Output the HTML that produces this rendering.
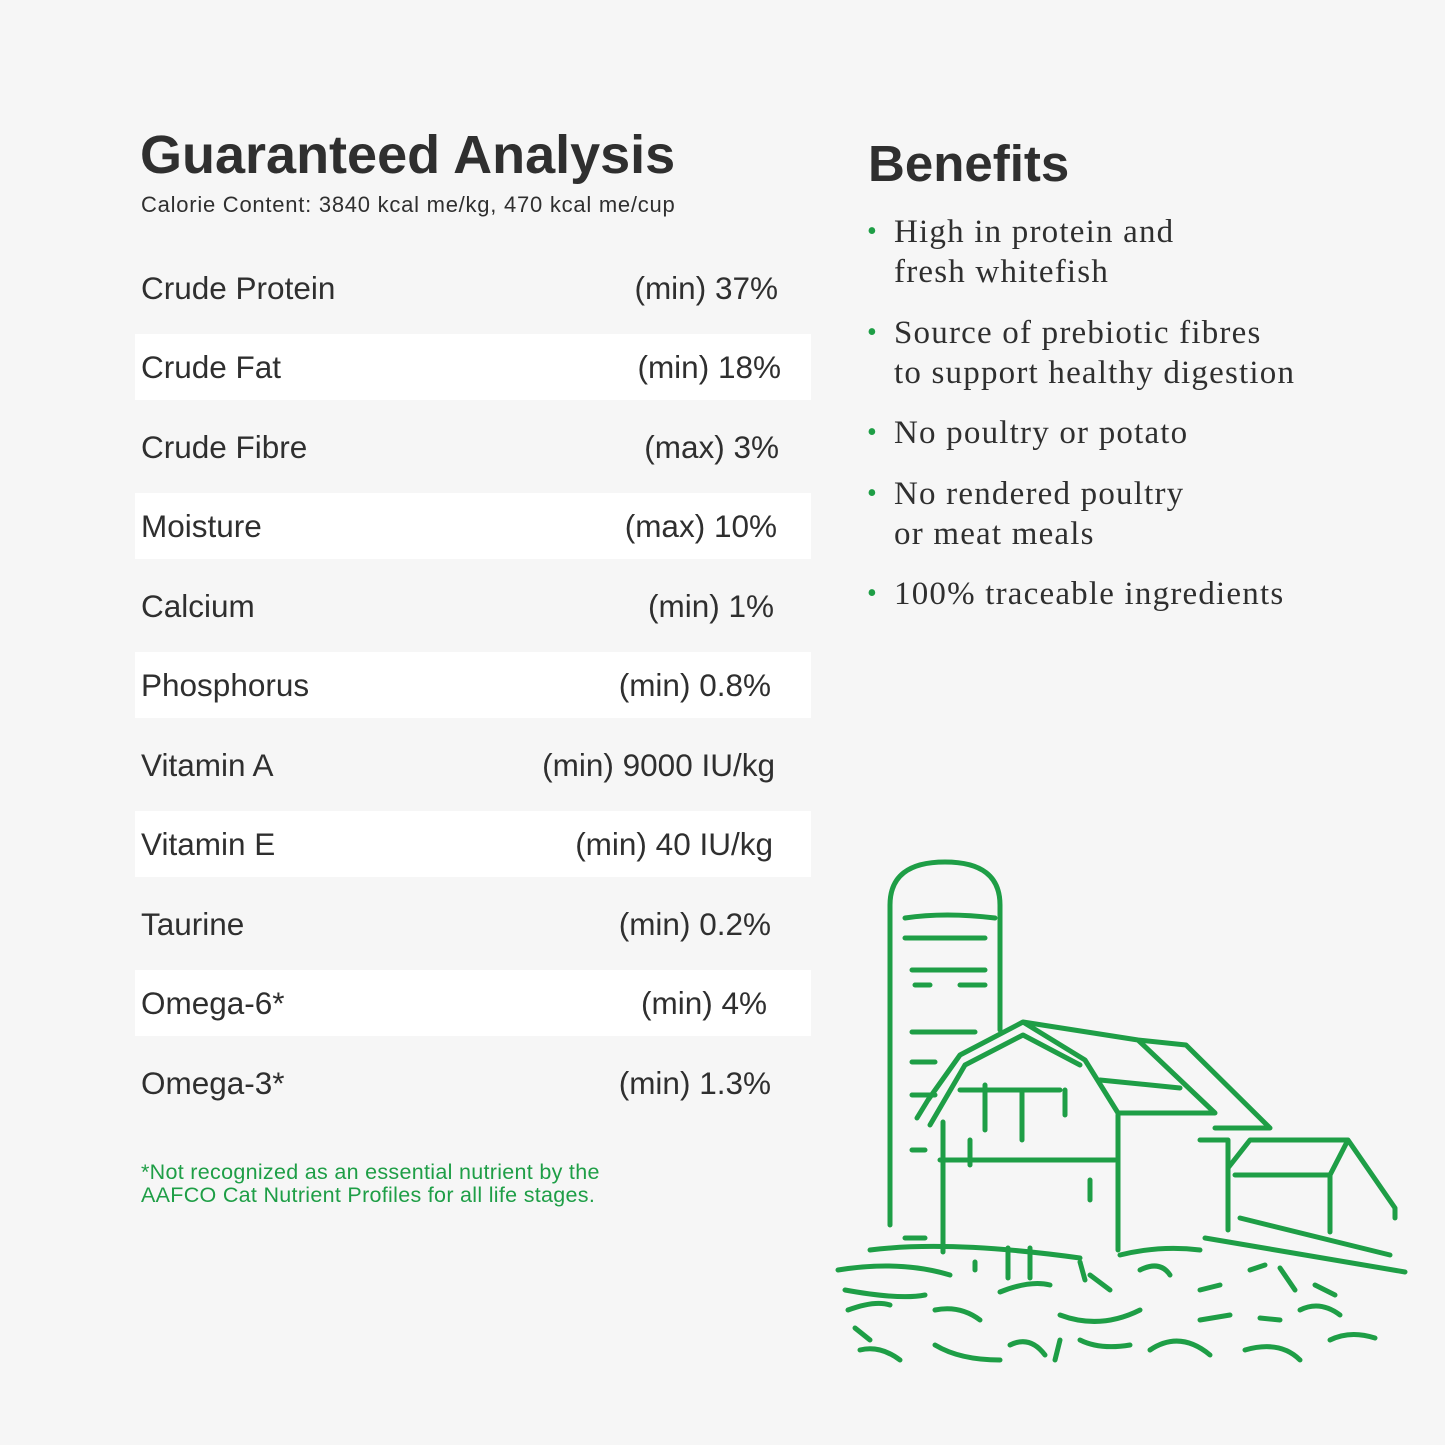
<!DOCTYPE html>
<html><head><style>
body{margin:0;width:1445px;height:1445px;background:#f6f6f6;position:relative;overflow:hidden;font-family:"Liberation Sans",sans-serif;color:#2f2f2f}
.t{position:absolute;white-space:nowrap}
.row{position:absolute;left:135px;width:676px;height:66px}
.w{background:#fff}
.lab{position:absolute;left:6px;font-size:31.5px;line-height:66px}
.val{position:absolute;font-size:31.5px;line-height:66px;white-space:nowrap}
.b{position:absolute;left:869px;font-family:"Liberation Serif",serif;font-size:33px;line-height:40px;color:#2f2f2f;letter-spacing:1.2px;white-space:nowrap}
.b span{color:#1e9e46;font-size:28px;position:absolute;left:-2px;top:0}
.b div{padding-left:25px}
</style></head><body>
<div class="t" style="left:140px;top:124px;font-size:54px;font-weight:bold">Guaranteed Analysis</div>
<div class="t" style="left:141px;top:192px;font-size:22px;letter-spacing:0.75px">Calorie Content: 3840 kcal me/kg, 470 kcal me/cup</div>

<div class="row" style="top:255px"><div class="lab">Crude Protein</div><div class="val" style="right:33px">(min) 37%</div></div>
<div class="row w" style="top:334px"><div class="lab">Crude Fat</div><div class="val" style="right:30px">(min) 18%</div></div>
<div class="row" style="top:414px"><div class="lab">Crude Fibre</div><div class="val" style="right:32px">(max) 3%</div></div>
<div class="row w" style="top:493px"><div class="lab">Moisture</div><div class="val" style="right:34px">(max) 10%</div></div>
<div class="row" style="top:573px"><div class="lab">Calcium</div><div class="val" style="right:37px">(min) 1%</div></div>
<div class="row w" style="top:652px"><div class="lab">Phosphorus</div><div class="val" style="right:40px">(min) 0.8%</div></div>
<div class="row" style="top:732px"><div class="lab">Vitamin A</div><div class="val" style="right:36px">(min) 9000 IU/kg</div></div>
<div class="row w" style="top:811px"><div class="lab">Vitamin E</div><div class="val" style="right:38px">(min) 40 IU/kg</div></div>
<div class="row" style="top:891px"><div class="lab">Taurine</div><div class="val" style="right:40px">(min) 0.2%</div></div>
<div class="row w" style="top:970px"><div class="lab">Omega-6*</div><div class="val" style="right:44px">(min) 4%</div></div>
<div class="row" style="top:1050px"><div class="lab">Omega-3*</div><div class="val" style="right:40px">(min) 1.3%</div></div>

<div class="t" style="left:141px;top:1161px;font-size:21.5px;line-height:23px;color:#1e9e46;letter-spacing:0.3px">*Not recognized as an essential nutrient by the<br>AAFCO Cat Nutrient Profiles for all life stages.</div>

<div class="t" style="left:868px;top:134px;font-size:51px;font-weight:bold">Benefits</div>
<div class="b" style="top:212px"><span>•</span><div>High in protein and<br>fresh whitefish</div></div>
<div class="b" style="top:313px"><span>•</span><div>Source of prebiotic fibres<br>to support healthy digestion</div></div>
<div class="b" style="top:413px"><span>•</span><div>No poultry or potato</div></div>
<div class="b" style="top:474px"><span>•</span><div>No rendered poultry<br>or meat meals</div></div>
<div class="b" style="top:574px"><span>•</span><div>100% traceable ingredients</div></div>

<svg style="position:absolute;left:0;top:0" width="1445" height="1445" fill="none" stroke="#1e9e46" stroke-width="5" stroke-linecap="round" stroke-linejoin="round">
<path d="M890 1225 V905 Q890 862 945 862 Q1000 862 1000 905 V1030"/>
<path d="M905 918 Q945 912 995 918 M905 938 H985 M912 970 H985 M915 985 H930 M960 985 H985 M912 1032 H975 M912 1062 H935 M912 1095 H935 M912 1150 H925 M905 1238 H925"/>
<path d="M917 1118 L928 1100 L960 1055 L1023 1022 L1085 1060 L1118 1113 H1215 L1138 1040 L1023 1022 M1138 1040 L1186 1045 L1270 1128 H1215"/>
<path d="M930 1125 L965 1065 L1023 1035 L1080 1065"/>
<path d="M1100 1080 L1180 1088 M960 1090 H1060 M940 1160 H1115 M943 1122 V1252 M1118 1115 V1250"/>
<path d="M985 1085 V1130 M1022 1090 V1140 M1065 1090 V1115 M970 1140 V1165 M1090 1180 V1200"/>
<path d="M1200 1140 H1228 V1230 M1228 1168 L1250 1140 H1348 L1395 1208 V1218 M1235 1175 H1330 L1348 1140 M1330 1175 V1232"/>
<path d="M1205 1238 L1405 1272 M1240 1218 L1390 1255"/>
<path d="M1008 1248 V1278 M1030 1248 V1278 M975 1262 V1270 M1080 1262 L1085 1280"/>
<path d="M838 1270 Q900 1260 950 1275 M845 1290 Q900 1300 925 1295 M1000 1292 Q1030 1280 1050 1285 M848 1310 Q875 1300 890 1305 M935 1310 Q960 1305 980 1320 M855 1328 L870 1340 M860 1350 Q880 1345 900 1360 M935 1345 Q960 1360 1000 1360 M1010 1345 Q1030 1335 1045 1355 M1060 1340 L1055 1360 M1080 1340 Q1100 1350 1130 1345 M1150 1350 Q1180 1330 1210 1355 M1245 1350 Q1280 1340 1300 1360 M1090 1275 L1110 1290 M1140 1270 Q1160 1260 1170 1275 M1200 1290 L1220 1285 M1250 1270 L1265 1265 M1280 1268 L1295 1290 M1315 1285 L1335 1295 M1300 1310 Q1320 1300 1340 1315 M1330 1340 Q1350 1330 1375 1338 M1060 1315 Q1100 1330 1140 1310 M1200 1320 L1230 1315 M1260 1318 L1280 1320 M870 1250 Q950 1240 1080 1258 M1120 1255 Q1160 1245 1200 1250"/>
</svg>
</body></html>
